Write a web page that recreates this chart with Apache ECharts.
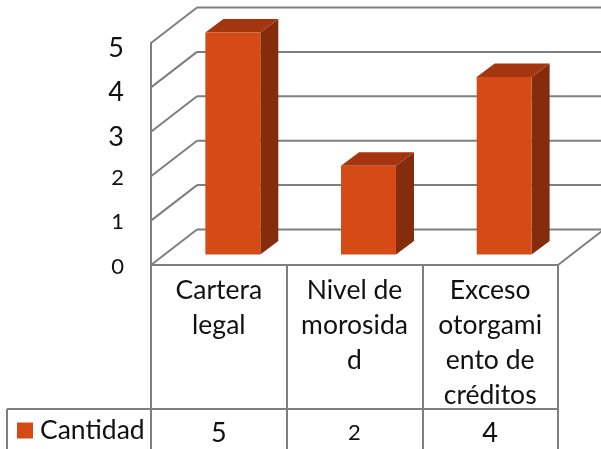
<!DOCTYPE html>
<html>
<head>
<meta charset="utf-8">
<style>
  html, body { margin: 0; background: #fff; }
  #chart { width: 601px; height: 449px; }
</style>
<script src="https://cdn.jsdelivr.net/npm/echarts@6/dist/echarts.min.js"></script>
</head>
<body>
<div id="chart"></div>
<script>
const categories = ['Cartera\nlegal', 'Nivel de\nmorosida\nd', 'Exceso\notorgami\nento de\ncréditos'];
const cantidad = [5, 2, 4];
const yTicks = [0, 1, 2, 3, 4, 5];
const seriesName = 'Cantidad';

const lineColor = '#7F7F7F';
const lineW = 2;
const front = '#D64A15';
const topFace = '#A3360F';
const sideFace = '#852C0D';
const font = 'Lato';

// profundidad del falso 3D
const wallDx = 46, wallDy = -35.5;
const barShiftX = 14, barShiftY = -10.5;
const barDx = 18, barDy = -13.5;

const myChart = echarts.init(document.getElementById('chart'), null, { renderer: 'canvas' });

function seg(x1, y1, x2, y2) {
  return {
    type: 'line',
    shape: { x1, y1, x2, y2 },
    style: { stroke: lineColor, lineWidth: lineW, fill: null }
  };
}

// paredes y filas de la tabla
function renderWalls(params, api) {
  const cs = params.coordSys;
  const y = api.coord([0, api.value(1)])[1];
  const left = cs.x, right = cs.x + cs.width;
  const children = [
    seg(left, y, left + wallDx, y + wallDy),
    seg(left + wallDx, y + wallDy, right + wallDx, y + wallDy)
  ];
  if (api.value(1) === 0) {
    const rowY = y + 144;
    children.push(seg(right, y, right + wallDx, y + wallDy));
    children.push(seg(7, rowY, right, rowY));
    children.push(seg(7, rowY, 7, 449));
  }
  return { type: 'group', children };
}

function renderBar(params, api) {
  const base = api.coord([api.value(0), 0]);
  const head = api.coord([api.value(0), api.value(1)]);
  const w = api.size([1, 0])[0] * 0.405;
  const x0 = base[0] + barShiftX - w / 2, x1 = x0 + w;
  const yb = base[1] + barShiftY, yt = head[1] + barShiftY;
  return {
    type: 'group',
    children: [
      {
        type: 'polygon',
        shape: { points: [[x1, yt], [x1 + barDx, yt + barDy], [x1 + barDx, yb + barDy], [x1, yb]] },
        style: { fill: sideFace }
      },
      {
        type: 'polygon',
        shape: { points: [[x0, yt], [x0 + barDx, yt + barDy], [x1 + barDx, yt + barDy], [x1, yt]] },
        style: { fill: topFace }
      },
      {
        type: 'rect',
        shape: { x: x0, y: yt, width: w, height: yb - yt },
        style: { fill: front }
      }
    ]
  };
}

// las cifras de la fuente original son de estilo antiguo: 0,1,2 más bajas, 3,4,5 descienden
function digit(v) {
  return (Number(v) < 3 ? '{low|' : '{high|') + v + '}';
}
const axisRich = {
  low: { fontFamily: font, fontSize: 22, color: '#111', padding: [3, 0, 0, 0] },
  high: { fontFamily: font, fontSize: 27, color: '#111', padding: [10, 0, 0, 0] }
};
const tableRich = {
  low: { fontFamily: font, fontSize: 22, color: '#111', lineHeight: 30 },
  high: { fontFamily: font, fontSize: 27, color: '#111', lineHeight: 30 }
};

const option = {
  backgroundColor: '#fff',
  animation: false,
  legend: {
    data: [seriesName],
    left: 17,
    top: 417,
    padding: 0,
    icon: 'rect',
    itemWidth: 16,
    itemHeight: 16,
    itemGap: 0,
    textStyle: { fontFamily: font, fontSize: 26.5, color: '#111', padding: [0, 0, 0, 2] }
  },
  grid: { left: 151, right: 43, top: 43, bottom: 184, outerBoundsMode: 'none' },
  xAxis: [
    {
      type: 'category',
      data: categories,
      axisLine: { show: true, lineStyle: { color: lineColor, width: lineW } },
      axisTick: { show: true, length: 184, lineStyle: { color: lineColor, width: lineW } },
      axisLabel: {
        interval: 0,
        margin: 8,
        fontFamily: font,
        fontSize: 26.5,
        lineHeight: 35,
        color: '#111',
        verticalAlign: 'top'
      }
    },
    {
      type: 'category',
      position: 'bottom',
      data: cantidad.map(String),
      axisLine: { show: false },
      axisTick: { show: false },
      axisLabel: {
        interval: 0,
        margin: 153,
        verticalAlign: 'top',
        formatter: digit,
        rich: tableRich
      }
    }
  ],
  yAxis: {
    type: 'value',
    min: 0,
    max: 5,
    interval: 1,
    splitLine: { show: false },
    axisTick: { show: false },
    axisLine: { show: true, lineStyle: { color: lineColor, width: lineW } },
    axisLabel: { margin: 27, formatter: digit, rich: axisRich }
  },
  series: [
    {
      type: 'custom',
      silent: true,
      renderItem: renderWalls,
      data: yTicks.map(t => [0, t]),
      z: 1
    },
    {
      type: 'custom',
      name: seriesName,
      renderItem: renderBar,
      itemStyle: { color: front },
      encode: { x: 0, y: 1 },
      data: cantidad.map((v, i) => [i, v]),
      z: 2
    }
  ]
};

myChart.setOption(option);
</script>
</body>
</html>
